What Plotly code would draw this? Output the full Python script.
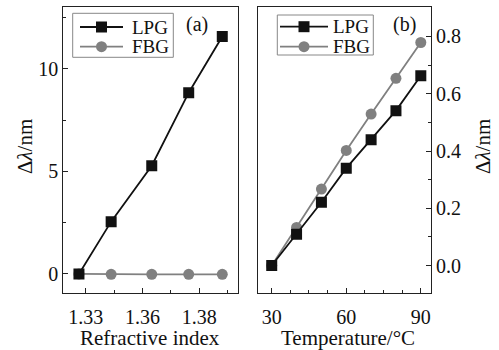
import plotly.graph_objects as go

# Panel (a): refractive index
ri = [1.327, 1.3412, 1.3591, 1.3754, 1.3902]
lpg_a = [0.0, 2.55, 5.28, 8.84, 11.58]
fbg_a = [0.0, -0.02, -0.02, -0.02, -0.02]

# Panel (b): temperature
temp = [30, 40, 50, 60, 70, 80, 90]
lpg_b = [0.0, 0.109, 0.221, 0.340, 0.439, 0.541, 0.663]
fbg_b = [0.0, 0.133, 0.267, 0.402, 0.529, 0.654, 0.779]

xa_ticks = [1.33, 1.355, 1.38]
xa_text = ["1.33", "1.36", "1.38"]
series_names = ["LPG", "FBG"]

BLACK = "#111111"
GRAY = "#808080"
FONT = "Liberation Serif"
W, H = 499, 350

fig = go.Figure()

def add(x, y, name, color, symbol, xaxis, yaxis):
    fig.add_trace(go.Scatter(
        x=x, y=y, name=name, mode="lines+markers",
        line=dict(color=color, width=1.8),
        marker=dict(symbol=symbol, size=11, color=color),
        xaxis=xaxis, yaxis=yaxis, showlegend=False,
    ))

add(ri, fbg_a, "FBG", GRAY, "circle", "x", "y")
add(ri, lpg_a, "LPG", BLACK, "square", "x", "y")
add(temp, fbg_b, "FBG", GRAY, "circle", "x2", "y2")
add(temp, lpg_b, "LPG", BLACK, "square", "x2", "y2")

ax_common = dict(showline=True, linecolor="#222222", linewidth=1.2, mirror=True,
                 ticks="inside", ticklen=5, tickwidth=1, tickcolor="#222222",
                 showgrid=False, zeroline=False,
                 tickfont=dict(family=FONT, size=20, color="#111111"))
minor = dict(ticks="inside", ticklen=3, tickwidth=1, tickcolor="#222222", showgrid=False)

# ---- manual legends (pixel layout) ----
shapes = []
annotations = []

def px(x):
    return x / W

def py(y):
    return 1 - y / H

def legend_box(x0, x1, y0, y1, line_x0, line_x1, text_x, rows):
    shapes.append(dict(type="rect", xref="paper", yref="paper",
                       x0=px(x0), x1=px(x1), y0=py(y1), y1=py(y0),
                       line=dict(color="#888888", width=1), fillcolor="white",
                       layer="above"))
    styles = [(BLACK, "square"), (GRAY, "circle")]
    for name, ry, (color, sym) in zip(series_names, rows, styles):
        shapes.append(dict(type="line", xref="paper", yref="paper",
                           x0=px(line_x0), x1=px(line_x1), y0=py(ry), y1=py(ry),
                           line=dict(color=color, width=1.8), layer="above"))
        cx = (line_x0 + line_x1) / 2
        r = 5.5
        shapes.append(dict(type="rect" if sym == "square" else "circle",
                           xref="paper", yref="paper",
                           x0=px(cx - r), x1=px(cx + r), y0=py(ry + r), y1=py(ry - r),
                           line=dict(color=color, width=0), fillcolor=color,
                           layer="above"))
        annotations.append(dict(text=name, x=px(text_x), y=py(ry), xref="paper", yref="paper",
                                xanchor="left", yanchor="middle", showarrow=False,
                                font=dict(family=FONT, size=19, color="#111111")))

legend_box(72.7, 173.3, 13.3, 57.3, 80, 123, 130, [27, 46.7])
legend_box(277.3, 373.3, 15, 55, 280, 328, 330.5, [26.7, 46.7])

def label(text, x, y, size, angle=0):
    annotations.append(dict(text=text, x=px(x), y=py(y), xref="paper", yref="paper",
                            xanchor="center", yanchor="middle", showarrow=False,
                            textangle=angle,
                            font=dict(family=FONT, size=size, color="#111111")))

label("(a)", 197, 25, 20)
label("(b)", 404, 25, 20)
label("Refractive index", 150, 338, 21)
label("Temperature/°C", 347.5, 338, 21)
label("Δ<i>λ</i>/nm", 25, 147, 21, -90)
label("Δ<i>λ</i>/nm", 483, 147, 21, -90)

fig.update_layout(
    width=W, height=H,
    margin=dict(l=0, r=0, t=0, b=0),
    paper_bgcolor="white", plot_bgcolor="white",
    font=dict(family=FONT, color="#111111"),
    showlegend=False,
    xaxis=dict(domain=[63.3 / W, 237.7 / W], range=[1.3201, 1.3970],
               tickvals=xa_ticks, ticktext=xa_text, anchor="y",
               minor=dict(tickvals=[1.3425, 1.3675, 1.3925], **minor),
               ticklabelstandoff=6, **ax_common),
    yaxis=dict(domain=[1 - 293 / H, 1 - 7 / H], range=[-0.93, 13.02],
               tickvals=[0, 5, 10], anchor="x",
               minor=dict(tickvals=[2.5, 7.5, 12.5], **minor),
               **ax_common),
    xaxis2=dict(domain=[258.3 / W, 431 / W], range=[24.6, 94.1],
                tickvals=[30, 60, 90], anchor="y2",
                minor=dict(dtick=7.5, tick0=30, **minor),
                ticklabelstandoff=6, **ax_common),
    yaxis2=dict(domain=[1 - 293 / H, 1 - 7 / H], range=[-0.096, 0.903],
                tickvals=[0, 0.2, 0.4, 0.6, 0.8], tickformat=".1f",
                anchor="x2", side="right",
                minor=dict(tickvals=[0.1, 0.3, 0.5, 0.7], **minor),
                **ax_common),
    shapes=shapes,
    annotations=annotations,
)

fig.write_html("out.html")
